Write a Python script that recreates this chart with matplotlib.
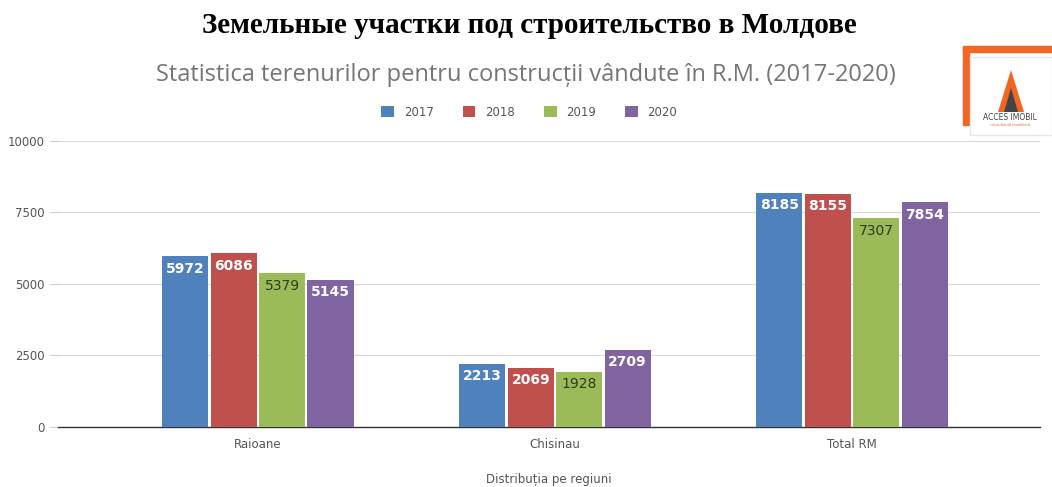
import matplotlib.pyplot as plt
import numpy as np
from matplotlib.patches import Rectangle, Polygon

# date
regiuni = ["Raioane", "Chisinau", "Total RM"]
ani = ["2017", "2018", "2019", "2020"]
v2017 = [5972, 2213, 8185]
v2018 = [6086, 2069, 8155]
v2019 = [5379, 1928, 7307]
v2020 = [5145, 2709, 7854]
culori = ["#4F81BD", "#C0504D", "#9BBB59", "#8064A2"]
culori_text = ["white", "white", "#2f3a1f", "white"]
greutati = ["bold", "bold", "normal", "bold"]

fig = plt.figure(figsize=(10.52, 4.87), dpi=100)
ax = fig.add_axes([0.0551, 0.1232, 0.9335, 0.5873])

x = np.arange(len(regiuni))
w = 0.155
pas = 0.163
serii = [v2017, v2018, v2019, v2020]
for i, (vals, c, tc) in enumerate(zip(serii, culori, culori_text)):
    pos = x + (i - 1.5) * pas
    ax.bar(pos, vals, width=w, color=c, label=ani[i], zorder=3)
    for px_, v in zip(pos, vals):
        ax.text(px_, v - 440, str(v), ha="center", va="center", color=tc,
                fontsize=10, fontweight=greutati[i], zorder=4)

ax.set_xlim(-0.673, 2.633)
ax.set_ylim(0, 10000)
ax.set_yticks([0, 2500, 5000, 7500, 10000])
ax.set_xticks(x)
ax.set_xticklabels(regiuni)
ax.tick_params(axis="both", colors="#cccccc", labelcolor="#555555", labelsize=8.5, length=6, width=0.8)
ax.tick_params(axis="x", length=0, pad=8)
ax.grid(axis="y", color="#d9d9d9", linewidth=0.8, zorder=0)
for s in ["top", "right", "left"]:
    ax.spines[s].set_visible(False)
ax.spines["bottom"].set_color("#333333")
ax.spines["bottom"].set_linewidth(1.0)
ax.set_xlabel("Distribuția pe regiuni", color="#555555", fontsize=8.5, labelpad=16)

# titluri
fig.text(0.503, 0.947, "Земельные участки под строительство в Молдове", ha="center", va="center",
         fontsize=21, fontweight="bold", family="Liberation Serif")
fig.text(0.5, 0.845, "Statistica terenurilor pentru construcții vândute în R.M. (2017-2020)",
         ha="center", va="center", fontsize=17, color="#757575", family="Open Sans")
fig.legend(loc="center", bbox_to_anchor=(0.503, 0.77), ncol=4, frameon=False, fontsize=8.5,
           handlelength=1.1, handleheight=1.1, columnspacing=2.45, labelcolor="#555555")

# logo
fig.patches.append(Rectangle((963/1052, 1 - 125/487), 6/1052, 78/487, transform=fig.transFigure,
                             color="#F26522", zorder=1))
fig.patches.append(Rectangle((963/1052, 1 - 52/487), 89/1052, 6/487, transform=fig.transFigure,
                             color="#F26522", zorder=1))
fig.patches.append(Rectangle((970/1052, 1 - 135/487), 82/1052, 78/487, transform=fig.transFigure,
                             facecolor="white", edgecolor="#e6e6e6", zorder=2))
fig.patches.append(Polygon([(998/1052, 1 - 112/487), (1011/1052, 1 - 70/487), (1024/1052, 1 - 112/487)],
                           closed=True, transform=fig.transFigure, facecolor="#F26522", zorder=3))
fig.patches.append(Polygon([(1004/1052, 1 - 112/487), (1011/1052, 1 - 88/487), (1018/1052, 1 - 112/487)],
                           closed=True, transform=fig.transFigure, facecolor="#444444", zorder=4))
fig.text(1010/1052, 1 - 118/487, "ACCES IMOBIL", ha="center", va="center", fontsize=5.5,
         color="#444444", zorder=5)
fig.text(1010/1052, 1 - 124/487, "consultanță imobiliară", ha="center", va="center", fontsize=2.5,
         color="#F26522", zorder=5)

fig.savefig("out.png", dpi=100)
